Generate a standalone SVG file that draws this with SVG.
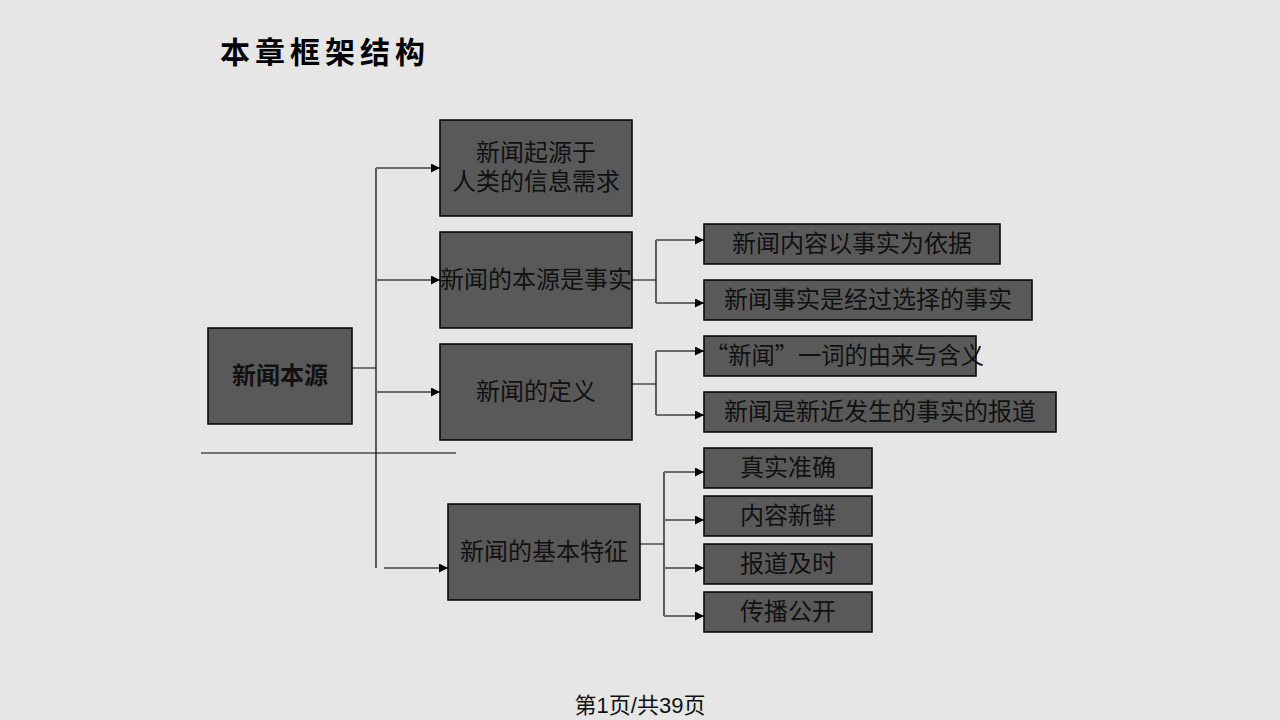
<svg xmlns="http://www.w3.org/2000/svg" width="1280" height="720" viewBox="0 0 1280 720">
<style>
.box{fill:#595959;stroke:#000;stroke-width:1.5}
.t{font-family:"Liberation Serif","Noto Sans CJK SC",serif;font-size:24px;fill:#111;text-anchor:middle}
.tl{font-family:"Noto Sans CJK SC",sans-serif;font-size:24px;fill:#111}
.b{font-family:"Liberation Sans","Noto Sans CJK SC",sans-serif;font-size:24px;font-weight:bold;fill:#111;text-anchor:middle}
.ln{stroke:#000;stroke-width:1.2;fill:none}
.ar{stroke:#6a6a6a;stroke-width:2;fill:none;marker-end:url(#ah)}
</style>
<defs>
<marker id="ah" viewBox="0 0 10 10" refX="10" refY="5" markerWidth="4.5" markerHeight="4.5" orient="auto" markerUnits="strokeWidth">
<path d="M0,0L10,5L0,10z" fill="#000"/>
</marker>
</defs>
<rect width="1280" height="720" fill="#e6e6e6"/>
<text x="220" y="63" font-family="'Noto Sans CJK SC',sans-serif" font-size="30" font-weight="bold" letter-spacing="5" fill="#000">本章框架结构</text>
<g id="connectors">
<path class="ln" d="M352,368H376M376,168V568"/>
<path class="ln" d="M201,453H456" stroke="#555"/>
<path class="ar" d="M376,168H440"/>
<path class="ar" d="M376,280H440"/>
<path class="ar" d="M376,392H440"/>
<path class="ar" d="M384,568H448"/>
<path class="ln" d="M632,280H656M656,240V303"/>
<path class="ar" d="M656,240H704"/>
<path class="ar" d="M656,303H704"/>
<path class="ln" d="M632,384H656M656,351V415"/>
<path class="ar" d="M656,351H704"/>
<path class="ar" d="M656,415H704"/>
<path class="ln" d="M640,544H664M664,472V616"/>
<path class="ar" d="M664,472H704"/>
<path class="ar" d="M664,520H704"/>
<path class="ar" d="M664,568H704"/>
<path class="ar" d="M664,616H704"/>
</g>
<g id="root"><rect class="box" x="208" y="328" width="144" height="96"/><text class="b" x="280" y="384">新闻本源</text></g>
<g id="n1"><rect class="box" x="440" y="120" width="192" height="96"/><text class="t" x="536" y="161">新闻起源于</text><text class="t" x="536" y="190">人类的信息需求</text></g>
<g id="n2"><rect class="box" x="440" y="232" width="192" height="96"/><text class="t" x="536" y="288">新闻的本源是事实</text></g>
<g id="n3"><rect class="box" x="440" y="344" width="192" height="96"/><text class="t" x="536" y="400">新闻的定义</text></g>
<g id="n4"><rect class="box" x="448" y="504" width="192" height="96"/><text class="t" x="544" y="560">新闻的基本特征</text></g>
<g id="n21"><rect class="box" x="704" y="224" width="296" height="40"/><text class="t" x="852" y="252">新闻内容以事实为依据</text></g>
<g id="n22"><rect class="box" x="704" y="280" width="328" height="40"/><text class="t" x="868" y="308">新闻事实是经过选择的事实</text></g>
<g id="n31"><rect class="box" x="704" y="336" width="272" height="40"/><text class="tl" x="705" y="364" textLength="279" lengthAdjust="spacingAndGlyphs">“新闻”一词的由来与含义</text></g>
<g id="n32"><rect class="box" x="704" y="392" width="352" height="40"/><text class="t" x="880" y="420">新闻是新近发生的事实的报道</text></g>
<g id="n41"><rect class="box" x="704" y="448" width="168" height="40"/><text class="t" x="788" y="476">真实准确</text></g>
<g id="n42"><rect class="box" x="704" y="496" width="168" height="40"/><text class="t" x="788" y="524">内容新鲜</text></g>
<g id="n43"><rect class="box" x="704" y="544" width="168" height="40"/><text class="t" x="788" y="572">报道及时</text></g>
<g id="n44"><rect class="box" x="704" y="592" width="168" height="40"/><text class="t" x="788" y="620">传播公开</text></g>
<text x="640" y="713" font-family="'Liberation Sans','Noto Sans CJK SC',sans-serif" font-size="22" fill="#111" text-anchor="middle">第1页/共39页</text>
</svg>
